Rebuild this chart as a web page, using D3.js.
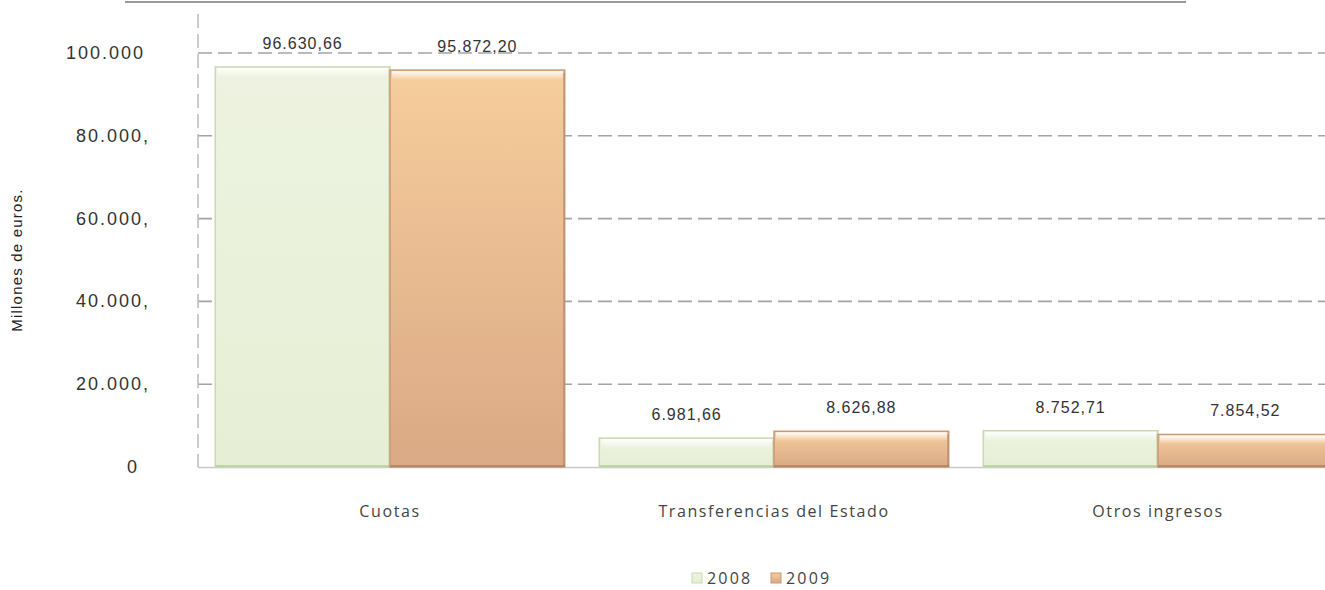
<!DOCTYPE html>
<html>
<head>
<meta charset="utf-8">
<script src="https://cdn.jsdelivr.net/npm/d3@7"></script>
<style>
  body { margin: 0; background: #fff; }
  svg { display: block; }
  .tick-label { font-family: "Liberation Sans", Arial, sans-serif; font-size: 18px; letter-spacing: 2px; fill: #333; }
  .value-label { font-family: "Liberation Sans", Arial, sans-serif; font-size: 16px; letter-spacing: 1px; fill: #333; }
  .cat-label { font-family: "Open Sans", sans-serif; font-size: 16px; letter-spacing: 1.6px; fill: #444; }
  .legend-label { font-family: "Open Sans", sans-serif; font-size: 16px; letter-spacing: 2.2px; fill: #444; }
</style>
</head>
<body>
<svg id="chart" width="1325" height="590"></svg>
<script>
// datos del grafico
const categories = ["Cuotas", "Transferencias del Estado", "Otros ingresos"];
const years = ["2008", "2009"];
const values2008 = [96630.66, 6981.66, 8752.71];
const values2009 = [95872.20, 8626.88, 7854.52];
const valueLabels2008 = ["96.630,66", "6.981,66", "8.752,71"];
const valueLabels2009 = ["95.872,20", "8.626,88", "7.854,52"];
const yTicks = [0, 20000, 40000, 60000, 80000, 100000];
const yTickLabels = ["0", "20.000,", "40.000,", "60.000,", "80.000,", "100.000"];

const svg = d3.select("#chart");
const width = 1325;

// escalas
const scaleX = d3.scaleBand()
    .domain(categories)
    .range([198, 1350])
    .paddingInner(0.09)
    .paddingOuter(0.045);

const scaleSub = d3.scaleBand()
    .domain(years)
    .range([0, scaleX.bandwidth()]);

const scaleY = d3.scaleLinear()
    .domain([0, 100000])
    .range([467, 53]);

// gradientes
const defs = svg.append("defs");
const gGreen = defs.append("linearGradient").attr("id", "gGreen").attr("x1", 0).attr("y1", 0).attr("x2", 0).attr("y2", 1);
gGreen.append("stop").attr("offset", "0%").attr("stop-color", "#edf3e0");
gGreen.append("stop").attr("offset", "100%").attr("stop-color", "#e6efd5");
const gOrange = defs.append("linearGradient").attr("id", "gOrange").attr("x1", 0).attr("y1", 0).attr("x2", 0).attr("y2", 1);
gOrange.append("stop").attr("offset", "0%").attr("stop-color", "#f6cd9c");
gOrange.append("stop").attr("offset", "100%").attr("stop-color", "#daa985");
const gTop = defs.append("linearGradient").attr("id", "gTop").attr("x1", 0).attr("y1", 0).attr("x2", 0).attr("y2", 1);
gTop.append("stop").attr("offset", "0%").attr("stop-color", "#fff").attr("stop-opacity", 0.95);
gTop.append("stop").attr("offset", "100%").attr("stop-color", "#fff").attr("stop-opacity", 0);

// linea superior
svg.append("line")
    .attr("x1", 125).attr("x2", 1186)
    .attr("y1", 2).attr("y2", 2)
    .attr("stroke", "#999").attr("stroke-width", 2);

// lineas de la cuadricula
const grid = svg.append("g");
grid.selectAll("line")
    .data(yTicks.filter(d => d > 0))
    .enter()
    .append("line")
    .attr("x1", 198).attr("x2", width)
    .attr("y1", d => scaleY(d)).attr("y2", d => scaleY(d))
    .attr("stroke", "#a4a4a4").attr("stroke-width", 1.6)
    .attr("stroke-dasharray", "14,6");

// eje vertical
svg.append("line")
    .attr("x1", 198).attr("x2", 198)
    .attr("y1", 14).attr("y2", scaleY(0))
    .attr("stroke", "#bbb").attr("stroke-width", 1.5)
    .attr("stroke-dasharray", "14,6");

// linea base
svg.append("line")
    .attr("x1", 198).attr("x2", width)
    .attr("y1", scaleY(0) + 0.5).attr("y2", scaleY(0) + 0.5)
    .attr("stroke", "#c8c8c8").attr("stroke-width", 1.5);

// etiquetas del eje Y
svg.append("g").selectAll("text")
    .data(yTicks)
    .enter()
    .append("text")
    .attr("class", "tick-label")
    .attr("x", (d, i) => i === 0 ? 139 : (i === yTicks.length - 1 ? 145 : 150))
    .attr("y", d => scaleY(d) + 6)
    .attr("text-anchor", "end")
    .text((d, i) => yTickLabels[i]);

// titulo del eje
svg.append("text")
    .attr("transform", "translate(22, 260) rotate(-90)")
    .attr("text-anchor", "middle")
    .style("font-family", "Liberation Sans, Arial, sans-serif")
    .style("font-size", "15px")
    .style("letter-spacing", "1.2px")
    .style("fill", "#222")
    .text("Millones de euros.");

// barras
const series = [
    { year: "2008", values: values2008, labels: valueLabels2008, fill: "url(#gGreen)", stroke: "#c9d9b0", edge: "#b7c99a" },
    { year: "2009", values: values2009, labels: valueLabels2009, fill: "url(#gOrange)", stroke: "#c99a77", edge: "#a88062" }
];

const barsContainer = svg.append("g");
series.forEach(s => {
    s.values.forEach((v, i) => {
        const x = scaleX(categories[i]) + scaleSub(s.year);
        const w = scaleSub.bandwidth();
        const y = scaleY(v);
        const h = scaleY(0) - y;
        const g = barsContainer.append("g");
        g.append("rect")
            .attr("x", x).attr("y", y)
            .attr("width", w).attr("height", h)
            .attr("fill", s.fill)
            .attr("stroke", s.stroke).attr("stroke-width", 1.5);
        // brillo superior
        g.append("rect")
            .attr("x", x + 2).attr("y", y + 1)
            .attr("width", w - 4).attr("height", Math.min(9, h / 2))
            .attr("fill", "url(#gTop)");
        // borde inferior mas oscuro
        g.append("line")
            .attr("x1", x).attr("x2", x + w)
            .attr("y1", y + h - 1).attr("y2", y + h - 1)
            .attr("stroke", s.edge).attr("stroke-width", 2).attr("opacity", 0.7);
        g.append("line")
            .attr("x1", x + w - 1).attr("x2", x + w - 1)
            .attr("y1", y + 3).attr("y2", y + h)
            .attr("stroke", s.edge).attr("stroke-width", 1.5).attr("opacity", 0.5);
        // etiqueta de valor
        barsContainer.append("text")
            .attr("class", "value-label")
            .attr("x", x + w / 2)
            .attr("y", y - 18)
            .attr("text-anchor", "middle")
            .text(s.labels[i]);
    });
});

// etiquetas de categorias
svg.append("g").selectAll("text")
    .data(categories)
    .enter()
    .append("text")
    .attr("class", "cat-label")
    .attr("x", d => scaleX(d) + scaleX.bandwidth() / 2)
    .attr("y", 517)
    .attr("text-anchor", "middle")
    .text(d => d);

// leyenda
const legend = svg.append("g").attr("transform", "translate(692, 584)");
series.forEach((s, i) => {
    const lg = legend.append("g").attr("transform", `translate(${i * 79}, 0)`);
    lg.append("rect")
        .attr("x", 0).attr("y", -11)
        .attr("width", 10).attr("height", 10)
        .attr("fill", s.fill).attr("stroke", s.stroke);
    lg.append("text")
        .attr("class", "legend-label")
        .attr("x", 15).attr("y", 0)
        .text(s.year);
});
</script>
</body>
</html>
